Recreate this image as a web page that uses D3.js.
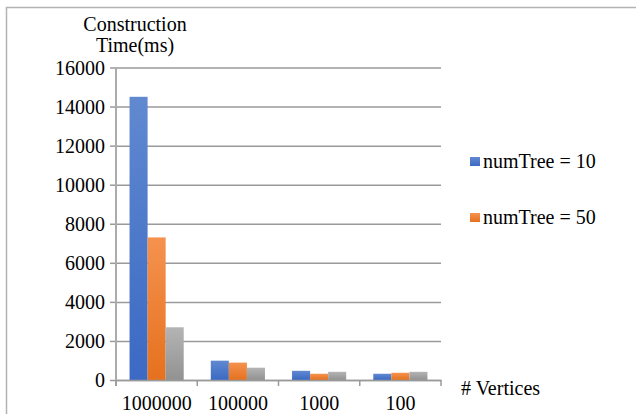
<!DOCTYPE html>
<html>
<head>
<meta charset="utf-8">
<script src="https://cdn.jsdelivr.net/npm/d3@7/dist/d3.min.js"></script>
<style>
  html, body { margin: 0; padding: 0; background: #fff; }
  svg { display: block; font-family: "Liberation Serif", "Times New Roman", serif; }
</style>
</head>
<body>
<svg id="chart" width="636" height="414"></svg>
<script>
// Construction time (ms) by number of vertices, for different tree counts
const categories = ["1000000", "100000", "1000", "100"];
const seriesNames = ["numTree = 10", "numTree = 50", "numTree = 100"];
const numTree10 = [14500, 990, 470, 320];
const numTree50 = [7300, 890, 320, 370];
const numTree100 = [2700, 630, 420, 420];
const yTicks = [0, 2000, 4000, 6000, 8000, 10000, 12000, 14000, 16000];
const legendNames = ["numTree = 10", "numTree = 50"];

const seriesValues = [numTree10, numTree50, numTree100];
const colors = [
  { hi: "#6089d0", lo: "#3b69c4" },
  { hi: "#f5924f", lo: "#e5711e" },
  { hi: "#b4b4b4", lo: "#929292" }
];

const svg = d3.select("#chart");
const defs = svg.append("defs");
colors.forEach((c, i) => {
  const g = defs.append("linearGradient")
    .attr("id", "grad" + i)
    .attr("x1", 0).attr("y1", 0).attr("x2", 0).attr("y2", 1);
  g.append("stop").attr("offset", "0%").attr("stop-color", c.hi);
  g.append("stop").attr("offset", "100%").attr("stop-color", c.lo);
});

// Outer frame (open on the right and bottom edges of the page)
svg.append("path")
  .attr("d", "M6.5,414 V7.5 H640")
  .attr("fill", "none")
  .attr("stroke", "#b3b3b3")
  .attr("stroke-width", 1.5);

const plotL = 116, plotR = 441, plotT = 67.5, plotB = 380;

const x = d3.scaleBand().domain(categories).range([plotL, plotR]).paddingInner(0).paddingOuter(0);
const y = d3.scaleLinear().domain([0, 16000]).range([plotB, plotT]);

// Horizontal gridlines with left tick marks
const yAxis = d3.axisLeft(y).tickValues(yTicks).tickSize(6).tickFormat(d => d);
const yg = svg.append("g").attr("transform", `translate(${plotL},0)`).call(yAxis);
yg.select(".domain").remove();
yg.selectAll(".tick line").attr("stroke", "#9a9a9a").attr("stroke-width", 1.5);
yg.selectAll(".tick")
  .append("line")
  .attr("x1", 0).attr("x2", plotR - plotL)
  .attr("stroke", "#9a9a9a").attr("stroke-width", 1.5);
yg.selectAll(".tick text")
  .attr("x", -11)
  .attr("dy", "0.34em")
  .attr("fill", "#000")
  .style("font-size", "20px")
  .style("font-family", "'Liberation Serif', serif");

// Vertical axis line
svg.append("line")
  .attr("x1", plotL).attr("x2", plotL).attr("y1", plotT).attr("y2", plotB + 6)
  .attr("stroke", "#ababab").attr("stroke-width", 2);

// Bars: three per category, gap width 150% of a bar
const barW = x.bandwidth() / 4.5;
const inner = d3.scaleBand().domain(d3.range(3)).range([barW * 0.75, barW * 3.75]).padding(0);

const groups = svg.append("g").selectAll("g")
  .data(categories)
  .join("g")
  .attr("transform", d => `translate(${x(d)},0)`);

groups.selectAll("rect")
  .data((d, ci) => seriesValues.map((vals, si) => ({ si, v: vals[ci] })))
  .join("rect")
  .attr("x", d => inner(d.si))
  .attr("width", inner.bandwidth())
  .attr("y", d => y(d.v))
  .attr("height", d => plotB - y(d.v))
  .attr("fill", d => `url(#grad${d.si})`);

// Category axis
const xAxis = d3.axisBottom(x).tickSize(0).tickSizeOuter(0);
const xg = svg.append("g").attr("transform", `translate(0,${plotB})`).call(xAxis);
xg.select(".domain").attr("stroke", "#9a9a9a").attr("stroke-width", 1.5);
xg.selectAll(".tick text")
  .attr("y", 0).attr("dy", 0)
  .attr("transform", "translate(0,30)")
  .attr("fill", "#000")
  .style("font-size", "20px")
  .style("font-family", "'Liberation Serif', serif");
// boundary tick marks between categories
svg.append("g").selectAll("line")
  .data(d3.range(categories.length + 1))
  .join("line")
  .attr("x1", i => plotL + i * x.step())
  .attr("x2", i => plotL + i * x.step())
  .attr("y1", plotB).attr("y2", plotB + 6)
  .attr("stroke", "#9a9a9a").attr("stroke-width", 1.5);

// Axis titles
const title = svg.append("text")
  .attr("text-anchor", "middle")
  .style("font-size", "20px")
  .attr("fill", "#000");
title.append("tspan").attr("x", 135).attr("y", 31).text("Construction");
title.append("tspan").attr("x", 135).attr("y", 52).text("Time(ms)");

svg.append("text")
  .attr("x", 461).attr("y", 395)
  .style("font-size", "20px")
  .attr("fill", "#000")
  .text("# Vertices");

// Legend
const legend = svg.append("g").selectAll("g")
  .data(legendNames)
  .join("g")
  .attr("transform", (d, i) => `translate(470,${157 + i * 56})`);
legend.append("rect")
  .attr("width", 10).attr("height", 9)
  .attr("fill", (d, i) => `url(#grad${i})`);
legend.append("text")
  .attr("x", 13).attr("y", 11)
  .style("font-size", "20px")
  .attr("fill", "#000")
  .text(d => d);
</script>
</body>
</html>
